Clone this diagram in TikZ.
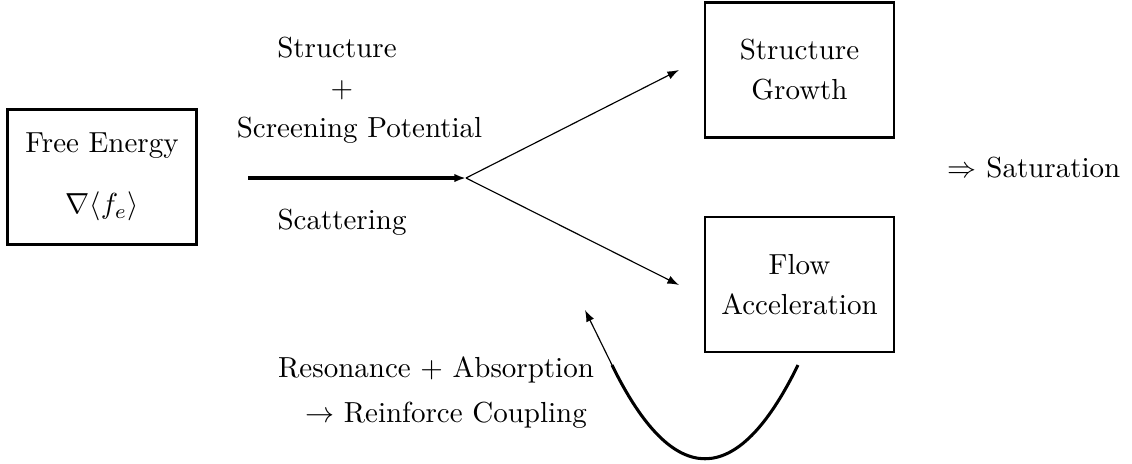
\documentclass[tikz,border=0pt]{standalone}
\usetikzlibrary{arrows.meta}
\begin{document}
\begin{tikzpicture}[x=0.3448pt,y=-0.3448pt,
  boxnode/.style={draw,line width=0.9pt,inner sep=0pt,align=center,minimum width=65.2pt,minimum height=46.5pt},
  lbl/.style={anchor=base,inner sep=0pt},
  thinarrow/.style={line width=0.4pt,-{Latex[length=4pt,width=2.9pt]}},
  thickarrow/.style={line width=1.2pt,-{Latex[length=4pt,width=2.9pt]}},
  thickcurve/.style={line width=1.05pt}]
\useasboundingbox (0,0) rectangle (1132,463);
% boxes
\node[boxnode] (fe) at (102,177) {Free Energy\\[9pt]$\nabla\langle f_e\rangle$};
\node[boxnode] (sg) at (799.5,70) {Structure\\[1.8pt]Growth};
\node[boxnode] (fa) at (799.5,284.5) {Flow\\[1.8pt]Acceleration};
% labels
\node[lbl] (l1) at (337,57) {Structure};
\node[lbl] (l2) at (342,97) {$+$};
\node[lbl] (l3) at (359.5,137) {Screening Potential};
\node[lbl] (l4) at (342,229) {Scattering};
\node[lbl] (l5) at (436,377) {Resonance $+$ Absorption};
\node[lbl] (l6) at (446,422) {$\rightarrow$ Reinforce Coupling};
\node[lbl] (sat) at (1034,177) {$\Rightarrow$ Saturation};
% connector coordinates
\coordinate (s) at (248,178);
\coordinate (j) at (466,178);
\coordinate (up) at (679,70);
\coordinate (dn) at (679,285);
\coordinate (c1) at (798,365);
\coordinate (c2) at (612,365);
\coordinate (ct) at (585,310);
% connectors
\draw[thickarrow] (s) -- (j);
\draw[thinarrow] (j) -- (up);
\draw[thinarrow] (j) -- (dn);
\draw[thickcurve] (c1) .. controls (737,490) and (673,490) .. (c2);
\draw[thinarrow] (c2) -- (ct);
\end{tikzpicture}
\end{document}
